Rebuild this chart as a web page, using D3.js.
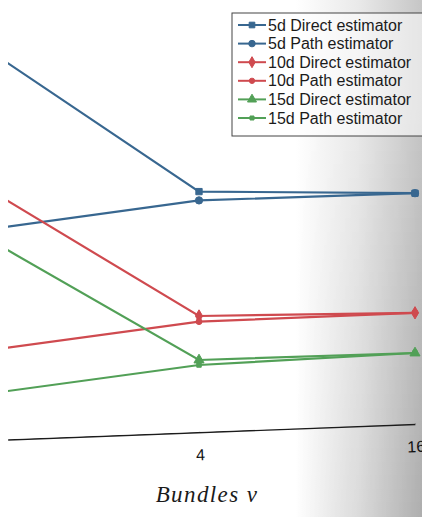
<!DOCTYPE html>
<html>
<head>
<meta charset="utf-8">
<script src="https://cdn.jsdelivr.net/npm/d3@7"></script>
<style>
  html, body { margin: 0; padding: 0; background: #fff; }
  svg { display: block; }
</style>
</head>
<body>
<svg id="chart" width="422" height="517"></svg>
<script>
// Number of bundles on the (log2) x axis
const bundles = [1, 4, 16];
const tickValues = [4, 16];
const tickLabels = ["4", "16"];

// Estimator error per bundle count, one array per series
const direct5  = [0.984, 0.621, 0.617];
const path5    = [0.525, 0.599, 0.617];
const direct10 = [0.635, 0.310, 0.318];
const path10   = [0.2225, 0.296, 0.318];
const direct15 = [0.510, 0.200, 0.2175];
const path15   = [0.114, 0.1875, 0.2175];

const seriesNames = [
  "5d Direct estimator", "5d Path estimator",
  "10d Direct estimator", "10d Path estimator",
  "15d Direct estimator", "15d Path estimator"
];
const seriesValues = [direct5, path5, direct10, path10, direct15, path15];
const seriesColors = ["#386790", "#386790", "#cf4a4f", "#cf4a4f", "#52a057", "#52a057"];
const seriesSymbols = [d3.symbolSquare, d3.symbolCircle, d3.symbolDiamond, d3.symbolCircle, d3.symbolTriangle, d3.symbolSquare];
const symbolSizes = [40, 42, 44, 28, 44, 20];

const svg = d3.select("#chart");
const W = 422, H = 517;

// page shading toward the binding
const defs = svg.append("defs");
const g1 = defs.append("linearGradient").attr("id", "shade")
  .attr("x1", "0").attr("y1", "0").attr("x2", "1").attr("y2", "0");
g1.append("stop").attr("offset", "0.70").attr("stop-color", "#ffffff");
g1.append("stop").attr("offset", "0.85").attr("stop-color", "#e9e9e9");
g1.append("stop").attr("offset", "1").attr("stop-color", "#c6c6c6");
const g2 = defs.append("linearGradient").attr("id", "shadeV")
  .attr("x1", "0").attr("y1", "0").attr("x2", "0").attr("y2", "1");
g2.append("stop").attr("offset", "0.2").attr("stop-color", "#000").attr("stop-opacity", 0);
g2.append("stop").attr("offset", "1").attr("stop-color", "#000").attr("stop-opacity", 0.12);
const m = defs.append("mask").attr("id", "rightMask");
const mg = defs.append("linearGradient").attr("id", "maskGrad")
  .attr("x1", "0").attr("y1", "0").attr("x2", "1").attr("y2", "0");
mg.append("stop").attr("offset", "0.70").attr("stop-color", "#000");
mg.append("stop").attr("offset", "1").attr("stop-color", "#fff");
m.append("rect").attr("width", W).attr("height", H).attr("fill", "url(#maskGrad)");

svg.append("rect").attr("width", W).attr("height", H).attr("fill", "url(#shade)");
svg.append("rect").attr("width", W).attr("height", H).attr("fill", "url(#shadeV)").attr("mask", "url(#rightMask)");

defs.append("clipPath").attr("id", "plotClip")
  .append("rect").attr("x", 8).attr("y", 0).attr("width", W).attr("height", H);

const x = d3.scaleLog().base(2).domain([1, 16]).range([-17, 415]);
const y = d3.scaleLinear().domain([0, 1]).range([440, 40]);

// x axis (page slightly tilted)
const axisG = svg.append("g")
  .attr("transform", "rotate(-2.2, 200, 432)")
  .append("g")
  .attr("clip-path", "url(#plotClip)")
  .attr("transform", "translate(0,432)")
  .call(d3.axisBottom(x)
    .tickValues(tickValues)
    .tickFormat((d, i) => tickLabels[i])
    .tickSizeInner(-3)
    .tickSizeOuter(0)
    .tickPadding(17));
axisG.select(".domain").attr("stroke", "#1c1c1c").attr("stroke-width", 1.8);
axisG.selectAll(".tick line").attr("stroke", "#1c1c1c").attr("stroke-width", 1.3);
axisG.selectAll(".tick text")
  .attr("fill", "#111")
  .attr("font-family", "'Liberation Sans', Arial, sans-serif")
  .attr("font-size", 16);

// axis title
svg.append("text")
  .attr("x", 207).attr("y", 502)
  .attr("text-anchor", "middle")
  .style("font-family", "'Liberation Serif', 'DejaVu Serif', serif")
  .style("font-style", "italic")
  .style("font-size", "23px")
  .style("letter-spacing", "1.4px")
  .attr("fill", "#1a1a1a")
  .text("Bundles ν");

// series lines and markers
const plot = svg.append("g").attr("clip-path", "url(#plotClip)");
const line = d3.line().x((d, i) => x(bundles[i])).y(d => y(d));

seriesValues.forEach((vals, s) => {
  plot.append("path")
    .datum(vals)
    .attr("d", line)
    .attr("fill", "none")
    .attr("stroke", seriesColors[s])
    .attr("stroke-width", 2.2);
});
seriesValues.forEach((vals, s) => {
  plot.selectAll(null)
    .data(vals)
    .join("path")
    .attr("transform", (d, i) => `translate(${x(bundles[i])},${y(d)})`)
    .attr("d", d3.symbol().type(seriesSymbols[s]).size(symbolSizes[s]))
    .attr("fill", seriesColors[s])
    .attr("stroke", seriesColors[s])
    .attr("stroke-width", 1);
});

// legend
const legend = svg.append("g").attr("transform", "translate(232,13)");
legend.append("rect")
  .attr("x", 0).attr("y", 0).attr("width", 210).attr("height", 123)
  .attr("fill", "#fff").attr("fill-opacity", 0.55)
  .attr("stroke", "#444").attr("stroke-width", 1);
seriesNames.forEach((name, s) => {
  const row = legend.append("g").attr("transform", `translate(0,${12 + s * 18.6})`);
  row.append("line")
    .attr("x1", 6).attr("x2", 34).attr("y1", 0).attr("y2", 0)
    .attr("stroke", seriesColors[s]).attr("stroke-width", 2);
  row.append("path")
    .attr("transform", "translate(20,0)")
    .attr("d", d3.symbol().type(seriesSymbols[s]).size(symbolSizes[s] * 0.8))
    .attr("fill", seriesColors[s]).attr("stroke", seriesColors[s]);
  row.append("text")
    .attr("x", 36).attr("y", 5.5)
    .style("font-family", "'Liberation Sans', Arial, sans-serif")
    .style("font-size", "16px")
    .attr("fill", "#1b1b1b")
    .text(name);
});
</script>
</body>
</html>
